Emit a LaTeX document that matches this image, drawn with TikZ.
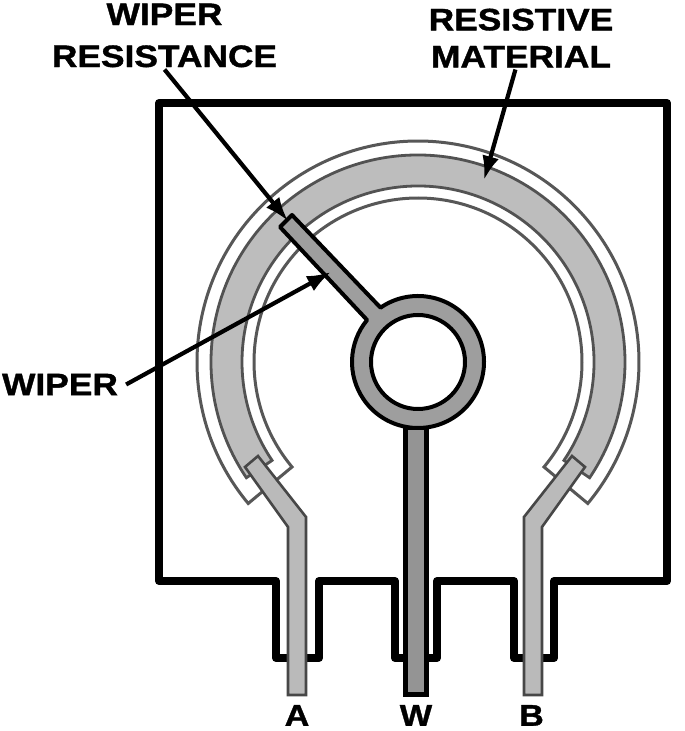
\documentclass[tikz,border=0pt]{standalone}
\usepackage{fontspec}
\setmainfont[FakeStretch=1.14,BoldFeatures={FakeBold=1.2}]{Liberation Sans}
\usetikzlibrary{arrows.meta}

\tikzset{
    body/.style={draw=black,line width=8pt,line join=round,fill=white},
    shell/.style={draw=black!66,line width=3pt,fill=white,line join=miter},
    band/.style={draw=black!68,line width=2.8pt,fill=black!26},
    lead/.style={draw=black!72,line width=2.6pt,fill=black!27,line join=miter},
    stem/.style={draw=black,line width=5pt,fill=black!42},
    rotor/.style={draw=black,line width=4pt,fill=black!38,line join=round},
    caption/.style={font=\bfseries\fontsize{31}{42}\selectfont,align=center,inner sep=2pt},
    pinlabel/.style={font=\bfseries\fontsize{30}{30}\selectfont,inner sep=0pt,text depth=0pt,anchor=south},
    pointer/.style={draw=black,line width=4.2pt,-{Latex[length=24pt,width=17pt]}}
}

\begin{document}
\begin{tikzpicture}[x=1pt,y=1pt]
    \useasboundingbox (0,0) rectangle (685,731);

    \coordinate (hub) at (418,369);

    % housing with the three slots
    \draw[body] (159,628) -- (159,150) -- (276,150) -- (276,73) -- (319,73) -- (319,150)
        -- (395,150) -- (395,73) -- (437,73) -- (437,150) -- (514,150) -- (514,73)
        -- (554,73) -- (554,150) -- (667,150) -- (667,628) -- cycle;

    % track
    \draw[shell,shift={(hub)}] (219.8:221) arc (219.8:-39.8:221)
        -- (-39.8:164) arc (-39.8:219.8:164) -- cycle;
    \draw[band,shift={(hub)}] (214:207) arc (214:-34:207)
        -- (-34:176) arc (-34:214:176) -- cycle;

    % end terminals
    \draw[lead] (245,264) -- (258,275) -- (306,214) -- (306,36) -- (288,36) -- (288,204) -- cycle;
    \draw[lead] (585,264) -- (572,275) -- (524,214) -- (524,36) -- (542,36) -- (542,204) -- cycle;

    % wiper
    \draw[stem] (405.5,303) rectangle (426,36);
    \draw[rotor,shift={(hub)}] (292-418,516-369) -- (124.6:66) arc (124.6:-219.5:66)
        -- (280-418,504-369) -- cycle;
    \draw[rotor,fill=white] (hub) circle (47);

    \node[caption] (resistlabel) at (164.5,695.5) {WIPER\\RESISTANCE};
    \node[caption] (materiallabel) at (521,693) {RESISTIVE\\[-5pt]MATERIAL};
    \node[caption] (wiperlabel) at (60,346.5) {WIPER};
    \node[pinlabel] (alabel) at (297,5) {A};
    \node[pinlabel] (wlabel) at (416,5) {W};
    \node[pinlabel] (blabel) at (531.5,5) {B};

    \coordinate (resisttip) at (288,510);
    \coordinate (materialtip) at (484,551);
    \coordinate (wipertip) at (331,459);

    \draw[pointer] (resistlabel.south) -- (resisttip);
    \draw[pointer] (materiallabel.-100) -- (materialtip);
    \draw[pointer] (wiperlabel.east) ++(6,0) -- (wipertip);
\end{tikzpicture}
\end{document}
